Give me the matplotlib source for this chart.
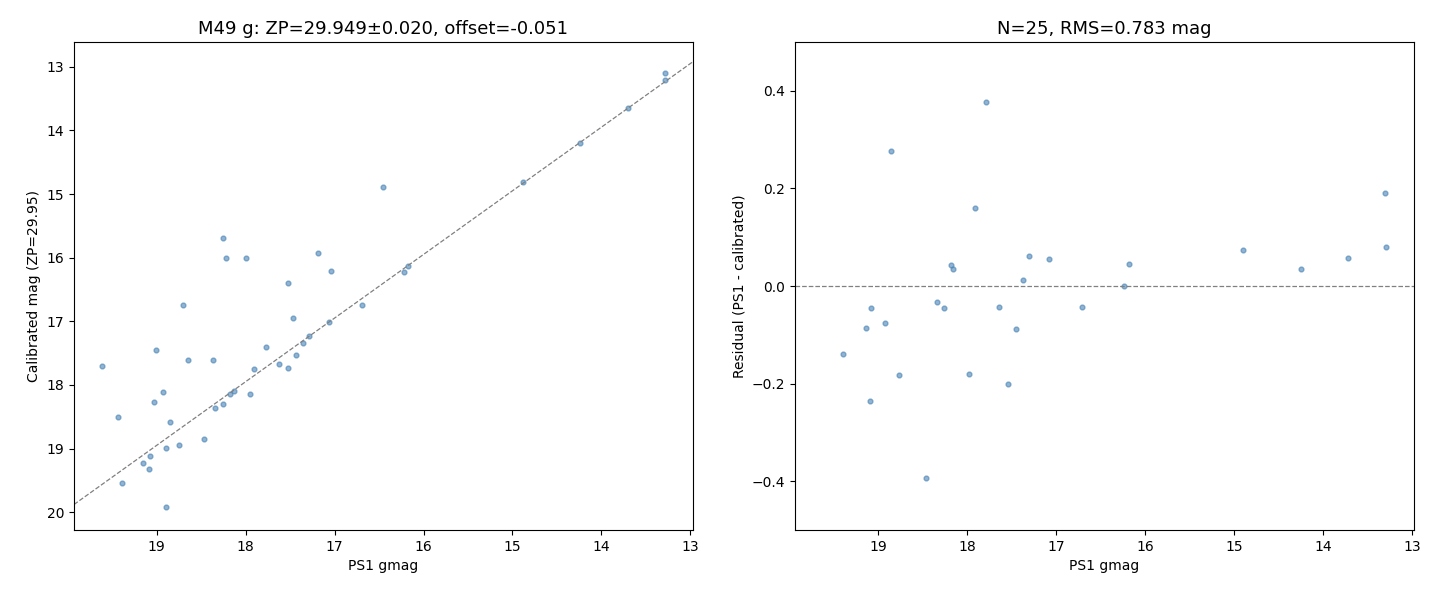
import numpy as np
import matplotlib
matplotlib.use("Agg")
import matplotlib.pyplot as plt

# calibration panel: PS1 gmag vs calibrated mag
ps1_g = [19.61, 19.43, 19.39, 19.15, 19.09, 19.07, 19.03, 19.01, 18.93, 18.90,
         18.89, 18.85, 18.75, 18.71, 18.65, 18.47, 18.37, 18.34, 18.26, 18.25,
         18.22, 18.18, 18.13, 18.00, 17.95, 17.91, 17.77, 17.63, 17.52, 17.52,
         17.47, 17.43, 17.36, 17.29, 17.19, 17.04, 17.06, 16.69, 16.46, 16.22,
         16.17, 14.88, 14.24, 13.70, 13.29, 13.28]
cal_mag = [17.70, 18.50, 19.54, 19.23, 19.32, 19.12, 18.27, 17.45, 18.11, 18.99,
           19.92, 18.58, 18.94, 16.74, 17.61, 18.85, 17.61, 18.36, 15.69, 18.30,
           16.00, 18.14, 18.09, 16.00, 18.14, 17.75, 17.40, 17.67, 16.40, 17.73,
           16.95, 17.53, 17.34, 17.23, 15.92, 16.21, 17.01, 16.74, 14.89, 16.22,
           16.13, 14.81, 14.19, 13.64, 13.09, 13.20]

# residual panel
res_g = [19.39, 19.13, 19.09, 19.08, 18.92, 18.85, 18.76, 18.46, 18.34, 18.26,
         18.18, 18.16, 17.98, 17.91, 17.79, 17.64, 17.54, 17.45, 17.37, 17.30,
         17.08, 16.71, 16.24, 16.18, 14.90, 14.25, 13.72, 13.30, 13.29]
resid = [-0.139, -0.086, -0.236, -0.045, -0.076, 0.277, -0.183, -0.394, -0.033, -0.045,
         0.043, 0.035, -0.181, 0.160, 0.377, -0.043, -0.201, -0.088, 0.012, 0.062,
         0.055, -0.043, 0.0, 0.045, 0.074, 0.035, 0.057, 0.191, 0.080]

zp, zp_err, offset = 29.949, 0.020, -0.051
n_used, rms = 25, 0.783

fig = plt.figure(figsize=(14.4, 6), dpi=100)
ax1 = fig.add_axes([74/1440, 70/600, 619/1440, 488/600])
ax2 = fig.add_axes([795/1440, 70/600, 619/1440, 488/600])

ax1.scatter(ps1_g, cal_mag, s=12, color='steelblue', alpha=0.6)
xl = np.array([19.93, 12.97])
ax1.plot(xl, xl + offset, '--', color='gray', lw=0.9)
ax1.set_xlim(19.93, 12.97)
ax1.set_ylim(20.28, 12.61)
ax1.set_xlabel('PS1 gmag')
ax1.set_ylabel('Calibrated mag (ZP=29.95)')
ax1.set_title(f'M49 g: ZP={zp:.3f}±{zp_err:.3f}, offset={offset:.3f}', fontsize=13)

ax2.scatter(res_g, resid, s=12, color='steelblue', alpha=0.6)
ax2.axhline(0, ls='--', color='gray', lw=0.9)
ax2.set_xlim(19.93, 12.98)
ax2.set_ylim(-0.5, 0.5)
ax2.set_xlabel('PS1 gmag')
ax2.set_ylabel('Residual (PS1 - calibrated)')
ax2.set_title(f'N={n_used}, RMS={rms:.3f} mag', fontsize=13)

fig.savefig('out.png', dpi=100)
